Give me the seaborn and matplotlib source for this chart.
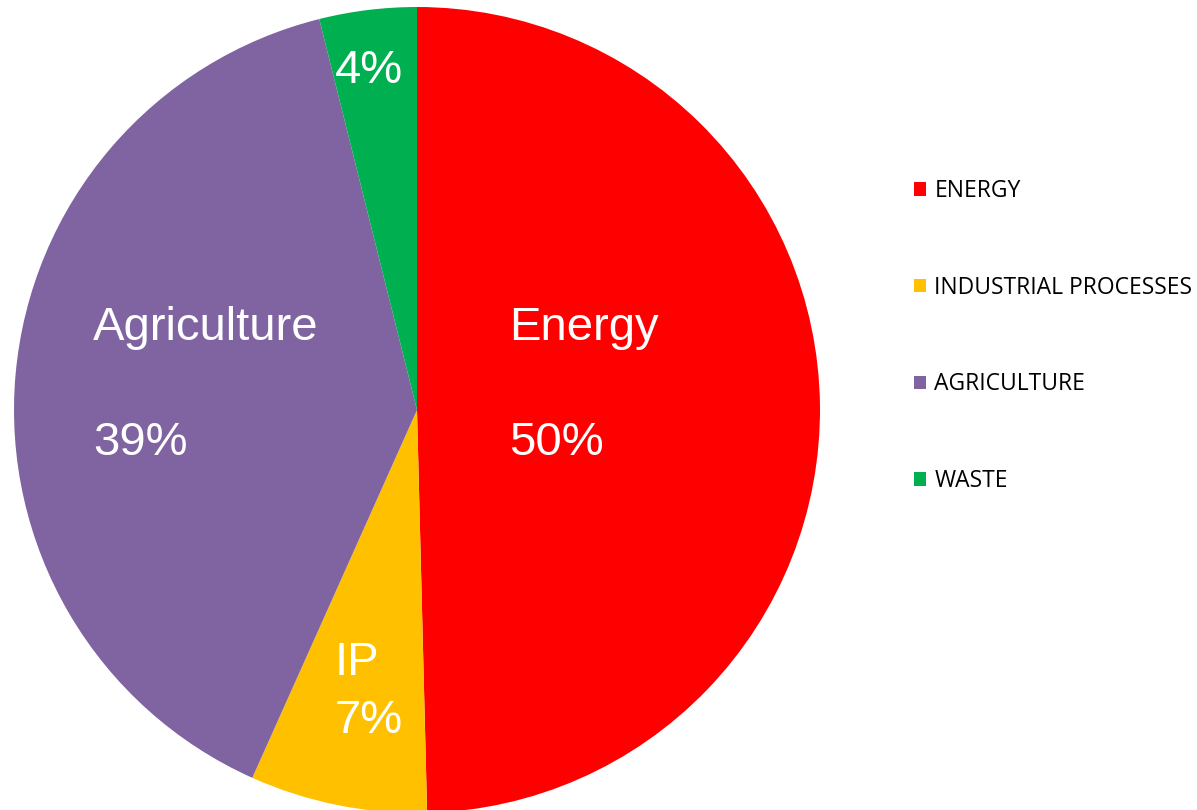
import matplotlib
matplotlib.use("Agg")
import matplotlib.pyplot as plt
import seaborn as sns

# shares (percent)
sectors = ["ENERGY", "INDUSTRIAL PROCESSES", "AGRICULTURE", "WASTE"]
shares = [49.6, 7.1, 39.4, 3.9]
slice_labels = ["Energy\n\n50%", "IP\n7%", "Agriculture\n\n39%", "4%"]
colors = ["#FF0000", "#FFC000", "#8064A2", "#00B050"]

sns.set_style("white")
plt.rcParams['font.family'] = ['Liberation Sans', 'DejaVu Sans']

fig = plt.figure(figsize=(11.97, 8.10), dpi=100)
# pie centre at (417, 410) px, radius 403 px
ax = fig.add_axes([14/1197, -3/810, 806/1197, 806/810])
wedges, _ = ax.pie(shares, colors=colors, startangle=90, counterclock=False,
                   radius=1, wedgeprops=dict(linewidth=0))
ax.set_xlim(-1, 1)
ax.set_ylim(-1, 1)
ax.set_aspect('equal')
ax.axis('off')

# label anchors (left edge / first-line baseline) in data units
label_pos = [(0.229, 0.174), (-0.2035, -0.6576), (-0.804, 0.174), (-0.2035, 0.8114)]
line_gap = [0.2854, 0.144, 0.2854, 0]
for lab, (x, y), gap in zip(slice_labels, label_pos, line_gap):
    lines = [s for s in lab.split("\n") if s]
    for i, s in enumerate(lines):
        ax.text(x, y - i * gap, s, color="white", fontsize=34,
                ha="left", va="baseline")

leg = fig.legend(wedges, sectors, loc="center left",
                 bbox_to_anchor=(893/1197, (810-336)/810),
                 frameon=False, prop={'family': 'Open Sans', 'size': 16.5},
                 handlelength=0.52, handleheight=0.52, handletextpad=0.39,
                 labelspacing=3.17)
for t in leg.get_texts():
    t.set_color("black")

fig.savefig("out.png", dpi=100)
